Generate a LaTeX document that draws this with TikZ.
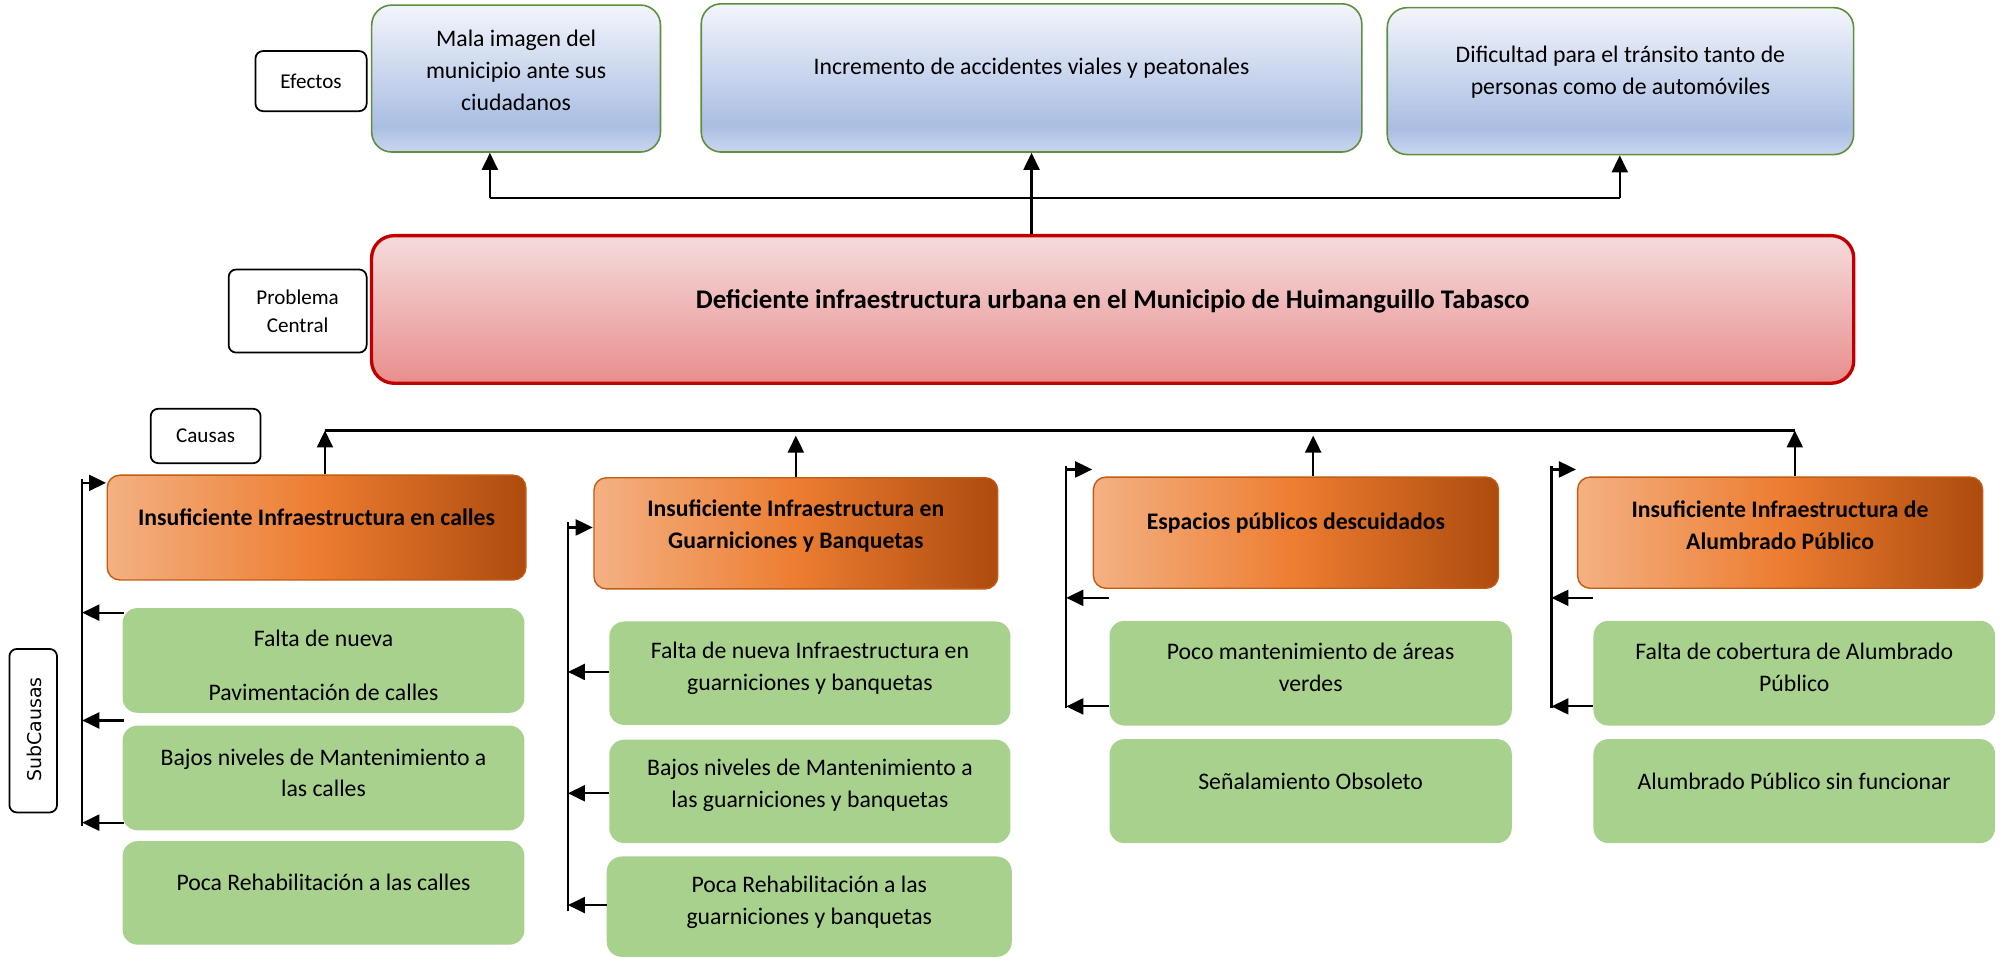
\documentclass[tikz,border=0pt]{standalone}
\usepackage{fontspec}
\setmainfont{Carlito}
\newfontfamily\sublabelfont{DejaVu Sans}
\usetikzlibrary{arrows.meta}

\definecolor{efftop}{HTML}{F3F5FB}
\definecolor{effmid}{HTML}{AABEE3}
\definecolor{effbot}{HTML}{C9D6EF}
\definecolor{effborder}{HTML}{5E8E3E}
\definecolor{redtop}{HTML}{F5DBDC}
\definecolor{redbot}{HTML}{E98E8D}
\definecolor{redborder}{HTML}{C00000}
\definecolor{orgL}{HTML}{F4B183}
\definecolor{orgM}{HTML}{ED7D31}
\definecolor{orgR}{HTML}{AD4B0E}
\definecolor{orgborder}{HTML}{C55A11}
\definecolor{subgreen}{HTML}{A9D18E}

\pgfdeclareverticalshading{effshade}{100bp}{color(0bp)=(effbot); color(25bp)=(effbot); color(34bp)=(effmid); color(75bp)=(efftop); color(100bp)=(efftop)}

\tikzset{
  effbox/.style={draw=effborder, line width=0.9pt, rounded corners=0.4cm,
    shade, shading=effshade, inner sep=0pt},
  centralbox/.style={draw=redborder, line width=1.9pt, rounded corners=0.45cm,
    top color=redtop, bottom color=redbot, inner sep=0pt},
  causebox/.style={draw=orgborder, line width=0.8pt, rounded corners=0.25cm,
    left color=orgL, right color=orgR, middle color=orgM, inner sep=0pt},
  subbox/.style={fill=subgreen, draw=none, rounded corners=0.3cm, inner sep=0pt},
  tagbox/.style={draw=black, line width=1pt, fill=white, rounded corners=0.15cm,
    inner sep=0pt, align=center, font=\fontsize{12}{16}\selectfont},
  txt/.style={align=center, inner sep=0pt, font=\fontsize{13.5}{18.2}\selectfont},
  btxt/.style={txt, font=\fontsize{13.5}{18.2}\selectfont\bfseries},
  conn/.style={line width=1.2pt, -{Triangle[length=0.34cm,width=0.32cm]}},
  spine/.style={line width=1.2pt},
  effline/.style={line width=1.6pt},
  causeline/.style={line width=1.3pt}
}

\begin{document}
\begin{tikzpicture}[x=0.025548cm, y=-0.025548cm]
\useasboundingbox (0,0) rectangle (1568,750);

% ---------- effects ----------
\node[effbox, minimum width=5.774cm, minimum height=2.938cm] (mala) at (404,61.5) {};
\node[effbox, minimum width=13.208cm, minimum height=2.964cm] (inc) at (807.5,61) {};
\node[effbox, minimum width=9.325cm, minimum height=2.938cm] (dif) at (1268.5,63.5) {};
\node[txt] (mala-t) at (404,55) {Mala imagen del\\municipio ante sus\\ciudadanos};
\node[txt] (inc-t) at (807.5,53) {Incremento de accidentes viales y peatonales};
\node[txt] (dif-t) at (1268.5,56.5) {Dificultad para el tránsito tanto de\\personas como de automóviles};

% ---------- central problem ----------
\node[centralbox, minimum width=29.636cm, minimum height=2.951cm] (central) at (871,242.25) {};
\node[txt, font=\fontsize{15.3}{19}\selectfont\bfseries] (central-t) at (871,236)
  {Deficiente infraestructura urbana en el Municipio de Huimanguillo Tabasco};

% ---------- row tags ----------
\node[tagbox, minimum width=2.223cm, minimum height=1.201cm] (tefe) at (243.5,63.5) {Efectos};
\node[tagbox, minimum width=2.759cm, minimum height=1.661cm] (tprob) at (233,243.5) {Problema\\Central};
\node[tagbox, minimum width=2.197cm, minimum height=1.088cm] (tcaus) at (161,341.3) {Causas};
\node[tagbox, minimum width=0.953cm, minimum height=3.270cm] (tsub) at (26,572) {};
\node[rotate=90, inner sep=0pt, font=\sublabelfont\fontsize{10.8}{12}\selectfont] (tsub-t) at (27,571) {SubCausas};

% ---------- causes ----------
\node[causebox, minimum width=8.370cm, minimum height=2.095cm] (c1) at (247.8,413) {};
\node[causebox, minimum width=8.073cm, minimum height=2.223cm] (c2) at (623,417.5) {};
\node[causebox, minimum width=8.099cm, minimum height=2.223cm] (c3) at (1014.5,417) {};
\node[causebox, minimum width=8.099cm, minimum height=2.223cm] (c4) at (1393.5,417) {};
\node[btxt] (c1-t) at (247.8,405) {Insuficiente Infraestructura en calles};
\node[btxt] (c2-t) at (623,411.5) {Insuficiente Infraestructura en\\Guarniciones y Banquetas};
\node[btxt] (c3-t) at (1014.5,409.5) {Espacios públicos descuidados};
\node[btxt] (c4-t) at (1393.5,411.5) {Insuficiente Infraestructura de\\Alumbrado Público};

% ---------- sub-causes ----------
\node[subbox, minimum width=8.035cm, minimum height=2.095cm] (s11) at (253.25,517) {};
\node[subbox, minimum width=8.035cm, minimum height=2.095cm] (s12) at (253.25,609) {};
\node[subbox, minimum width=8.035cm, minimum height=2.069cm] (s13) at (253.25,699) {};
\node[subbox, minimum width=8.022cm, minimum height=2.069cm] (s21) at (634,527) {};
\node[subbox, minimum width=8.022cm, minimum height=2.069cm] (s22) at (634,619.5) {};
\node[subbox, minimum width=8.099cm, minimum height=2.006cm] (s23) at (633.5,709.75) {};
\node[subbox, minimum width=8.043cm, minimum height=2.095cm] (s31) at (1026,527) {};
\node[subbox, minimum width=8.043cm, minimum height=2.080cm] (s32) at (1026,619.3) {};
\node[subbox, minimum width=8.030cm, minimum height=2.095cm] (s41) at (1404.6,527) {};
\node[subbox, minimum width=8.030cm, minimum height=2.080cm] (s42) at (1404.6,619.3) {};

\node[txt] (s11-t) at (253.25,521) {Falta de nueva\\[12.3pt]Pavimentación de calles};
\node[txt] (s12-t) at (253.25,605) {Bajos niveles de Mantenimiento a\\las calles};
\node[txt] (s13-t) at (253.25,691) {Poca Rehabilitación a las calles};
\node[txt] (s21-t) at (634,523) {Falta de nueva Infraestructura en\\guarniciones y banquetas};
\node[txt] (s22-t) at (634,615) {Bajos niveles de Mantenimiento a\\las guarniciones y banquetas};
\node[txt] (s23-t) at (633.5,706) {Poca Rehabilitación a las\\guarniciones y banquetas};
\node[txt] (s31-t) at (1026,522.5) {Poco mantenimiento de áreas\\verdes};
\node[txt] (s32-t) at (1026,611.4) {Señalamiento Obsoleto};
\node[txt] (s41-t) at (1404.6,522.5) {Falta de cobertura de Alumbrado\\Público};
\node[txt] (s42-t) at (1404.6,611.4) {Alumbrado Público sin funcionar};

% ---------- problem -> effects ----------
\coordinate (ej1) at (383.5,155);
\coordinate (ej3) at (1268,155);
\draw[effline] (ej1) -- (ej3);
\draw[conn] (ej1) -- (ej1 |- mala.south);
\draw[conn] (inc.south |- central.north) -- (inc.south);
\draw[conn] (ej3) -- (ej3 |- dif.south);

% ---------- causes -> problem ----------
\coordinate (cj1) at (254.4,337);
\coordinate (cj4) at (1405,337);
\coordinate (ca2) at (623,341);
\coordinate (ca3) at (1028,341);
\draw[causeline] (cj1) -- (cj4);
\draw[conn] (cj1 |- c1.north) -- (cj1);
\draw[conn] (c2.north) -- (ca2);
\draw[conn] (ca3 |- c3.north) -- (ca3);
\draw[conn] (cj4 |- c4.north) -- (cj4);

% ---------- sub-cause brackets ----------
% column 1
\coordinate (k1t) at (64.4,375);
\coordinate (k1b) at (64.4,647);
\coordinate (k1r) at (83,378);
\coordinate (a11) at (97,479.6);
\coordinate (a12) at (97,564);
\coordinate (a13) at (97,644);
\draw[spine] (k1t) -- (k1b);
\draw[conn] (k1t) |- (k1r);
\foreach \a in {a11,a12,a13} \draw[conn] (\a) -- (\a -| k1t);

% column 2
\coordinate (k2t) at (444.6,409);
\coordinate (k2b) at (444.6,713);
\coordinate (k2r) at (464,412.9);
\coordinate (a21) at (477,526);
\coordinate (a22) at (477,621);
\coordinate (a23) at (475,708.5);
\draw[spine] (k2t) -- (k2b);
\draw[conn] (k2t) |- (k2r);
\foreach \a in {a21,a22,a23} \draw[conn] (\a) -- (\a -| k2t);

% column 3
\coordinate (k3t) at (834.7,365);
\coordinate (k3b) at (834.7,554);
\coordinate (k3r) at (855,367.5);
\coordinate (a31) at (868,468);
\coordinate (a32) at (868,553);
\draw[spine] (k3t) -- (k3b);
\draw[conn] (k3t) |- (k3r);
\foreach \a in {a31,a32} \draw[conn] (\a) -- (\a -| k3t);

% column 4
\coordinate (k4t) at (1214.5,365);
\coordinate (k4b) at (1214.5,554);
\coordinate (k4r) at (1233.7,367.5);
\coordinate (a41) at (1247,468);
\coordinate (a42) at (1247,553);
\draw[spine] (k4t) -- (k4b);
\draw[conn] (k4t) |- (k4r);
\foreach \a in {a41,a42} \draw[conn] (\a) -- (\a -| k4t);
\end{tikzpicture}
\end{document}
